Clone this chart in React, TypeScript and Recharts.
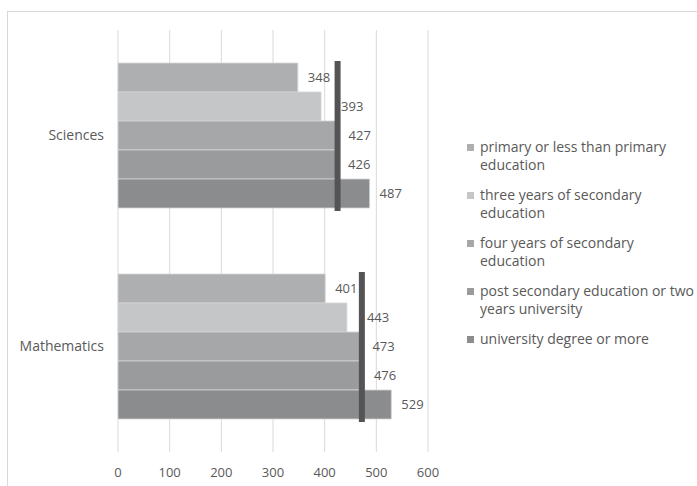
import { Bar, BarChart, CartesianGrid, LabelList, XAxis, YAxis } from "recharts";

const categories = ["Sciences", "Mathematics"];
const seriesNames = [
  "primary or less than primary education",
  "three years of secondary education",
  "four years of secondary education",
  "post secondary education or two years university",
  "university degree or more",
];
const primaryOrLess = [348, 401];
const threeYearsSecondary = [393, 443];
const fourYearsSecondary = [427, 473];
const postSecondary = [426, 476];
const universityDegree = [487, 529];
const overallMark = [425, 472];
const xTicks = [0, 100, 200, 300, 400, 500, 600];

const seriesValues = [primaryOrLess, threeYearsSecondary, fourYearsSecondary, postSecondary, universityDegree];
const colors = ["#aeafb1", "#c5c6c8", "#a6a7a9", "#9a9b9d", "#8b8c8e"];
// the second series' labels sit further out, past the dark marker
const labelOffsets = [10, 20, 10, 10, 10];

const data = categories.map((name, i) => {
  const row: Record<string, string | number> = { name, mark: overallMark[i] };
  seriesValues.forEach((vals, s) => {
    row[`s${s}`] = vals[i];
  });
  return row;
});

const font = "'Open Sans', sans-serif";
const textColor = "#595959";

function MarkShape(props: any) {
  const { x, y, width, height } = props;
  return <rect x={x + width - 3} y={y} width={6} height={height} fill="#545456" />;
}

function ChartLegend() {
  return (
    <div
      style={{
        position: "absolute",
        left: 467,
        top: 138,
        width: 230,
        fontFamily: font,
        fontSize: 14,
        color: textColor,
        lineHeight: "18px",
      }}
    >
      {seriesNames.map((n, i) => (
        <div key={n} style={{ display: "flex", alignItems: "flex-start", marginBottom: 12 }}>
          <span
            style={{
              display: "inline-block",
              width: 7,
              height: 7,
              background: colors[i],
              marginTop: 6,
              marginRight: 6,
              flex: "none",
            }}
          />
          <span style={{ width: 218 }}>{n}</span>
        </div>
      ))}
    </div>
  );
}

export default function App() {
  return (
    <div style={{ position: "fixed", left: 0, top: 0, width: 697, height: 486, background: "#fff", overflow: "hidden" }}>
      <div
        style={{
          position: "absolute",
          left: 7,
          top: 11,
          width: 720,
          height: 500,
          border: "1px solid #d9d9d9",
        }}
      />
      <div style={{ position: "absolute", left: 0, top: 0 }}>
        <BarChart
          width={697}
          height={486}
          data={data}
          layout="vertical"
          barGap={0}
          margin={{ top: 30, right: 269, bottom: 4, left: 18 }}
        >
          <CartesianGrid horizontal={false} stroke="#d9d9d9" />
          <XAxis
            type="number"
            domain={[0, 600]}
            ticks={xTicks}
            axisLine={false}
            tickLine={false}
            tickMargin={10}
            height={30}
            tick={{ fontSize: 13, fill: textColor, fontFamily: font }}
          />
          <YAxis
            type="category"
            dataKey="name"
            width={100}
            axisLine={false}
            tickLine={false}
            tickMargin={8}
            tick={{ fontSize: 14, fill: textColor, fontFamily: font }}
          />
          <YAxis yAxisId="mark" type="category" dataKey="name" hide />
          {seriesNames.map((n, i) => (
            <Bar
              key={n}
              dataKey={`s${i}`}
              name={n}
              fill={colors[i]}
              stroke="#d4d4d6"
              strokeWidth={0.8}
              barSize={29}
              isAnimationActive={false}
            >
              <LabelList
                dataKey={`s${i}`}
                position="right"
                offset={labelOffsets[i]}
                fill={textColor}
                fontSize={13}
                fontFamily={font}
              />
            </Bar>
          ))}
          <Bar
            dataKey="mark"
            yAxisId="mark"
            barSize={150}
            fill="#545456"
            shape={MarkShape}
            legendType="none"
            isAnimationActive={false}
          />
        </BarChart>
      </div>
      <ChartLegend />
    </div>
  );
}
